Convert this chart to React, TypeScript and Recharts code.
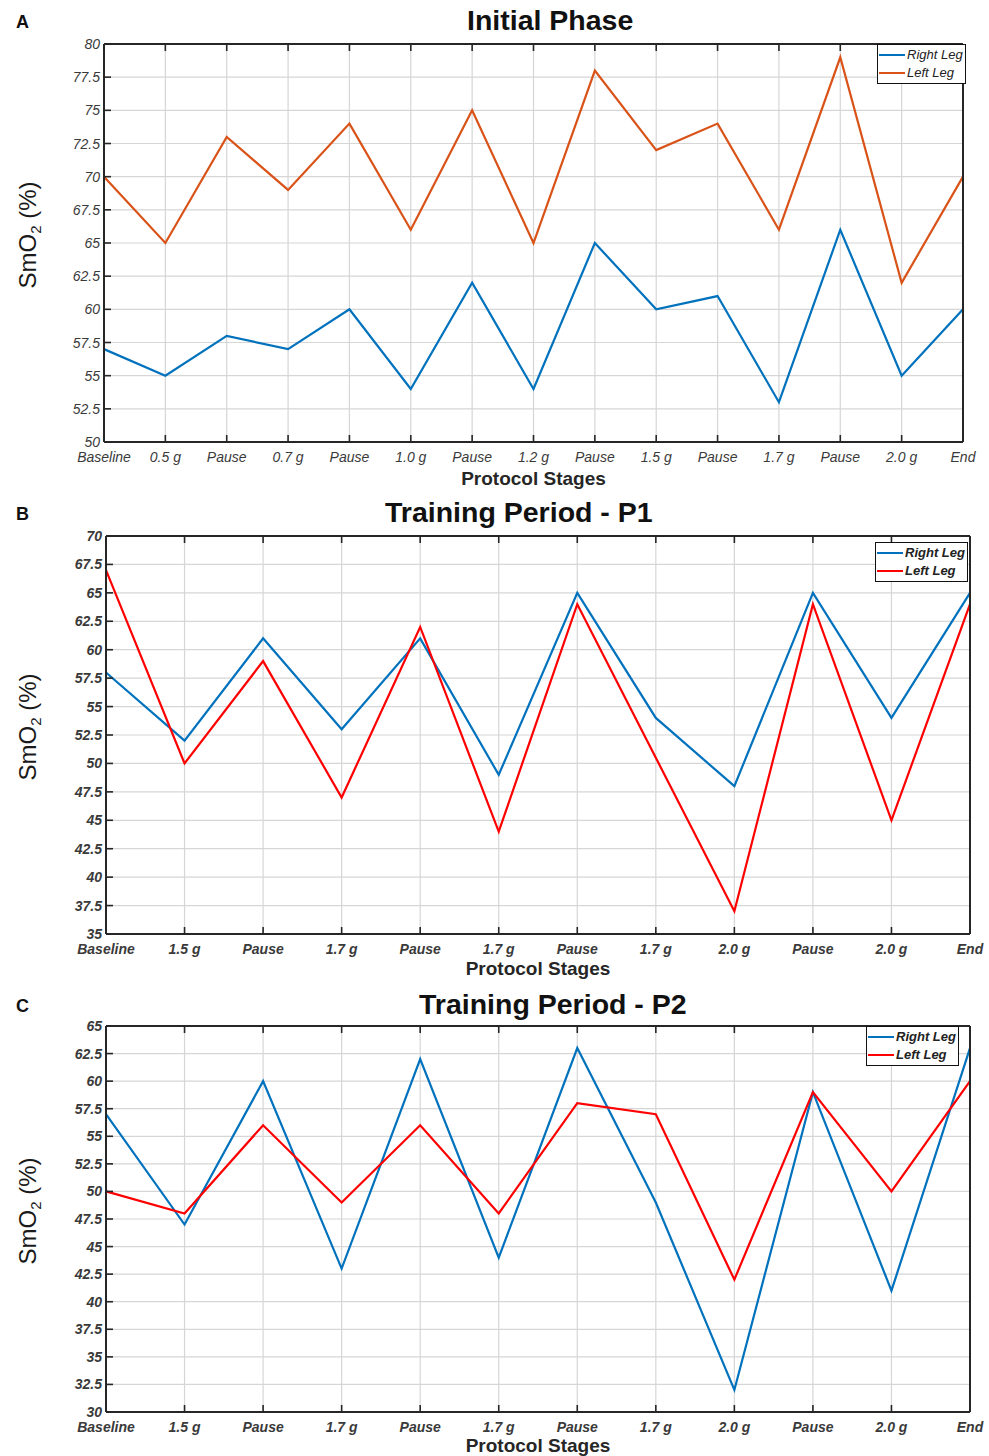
import React from 'react';
import { LineChart, Line, XAxis, YAxis, CartesianGrid, Legend } from 'recharts';

// Panel A - Initial Phase
const initialStages = ['Baseline', '0.5 g', 'Pause', '0.7 g', 'Pause', '1.0 g', 'Pause', '1.2 g', 'Pause', '1.5 g', 'Pause', '1.7 g', 'Pause', '2.0 g', 'End'];
const initialRight = [57, 55, 58, 57, 60, 54, 62, 54, 65, 60, 61, 53, 66, 55, 60];
const initialLeft = [70, 65, 73, 69, 74, 66, 75, 65, 78, 72, 74, 66, 79, 62, 70];
const initialTicks = [50, 52.5, 55, 57.5, 60, 62.5, 65, 67.5, 70, 72.5, 75, 77.5, 80];

// Panels B and C - Training periods
const trainingStages = ['Baseline', '1.5 g', 'Pause', '1.7 g', 'Pause', '1.7 g', 'Pause', '1.7 g', '2.0 g', 'Pause', '2.0 g', 'End'];
const p1Right = [58, 52, 61, 53, 61, 49, 65, 54, 48, 65, 54, 65];
const p1Left = [67, 50, 59, 47, 62, 44, 64, 50.5, 37, 64, 45, 64];
const p1Ticks = [35, 37.5, 40, 42.5, 45, 47.5, 50, 52.5, 55, 57.5, 60, 62.5, 65, 67.5, 70];
const p2Right = [57, 47, 60, 43, 62, 44, 63, 49, 32, 59, 41, 63];
const p2Left = [50, 48, 56, 49, 56, 48, 58, 57, 42, 59, 50, 60];
const p2Ticks = [30, 32.5, 35, 37.5, 40, 42.5, 45, 47.5, 50, 52.5, 55, 57.5, 60, 62.5, 65];

const FONT = '"Liberation Sans", Arial, sans-serif';
const AXIS = '#262626';
const GRID = '#d6d6d6';

const buildRows = (stages, right, left) =>
    stages.map((stage, i) => ({ stage, right: right[i], left: left[i] }));

const tickIndex = (p) => (p.index !== undefined ? p.index : p.payload && p.payload.index);

function Panel({ letter, title, titleLeft, top, height, marginTop, plotLeft, plotRightGap, xAxisH,
    rows, ticks, rightColor, leftColor, bold, legendPos, labelY }) {
    const tickFont = { fontFamily: FONT, fontStyle: 'italic', fontWeight: bold ? 'bold' : 'normal', fill: '#3a3a3a' };
    const last = rows.length - 1;
    const lo = ticks[0];
    const hi = ticks[ticks.length - 1];
    const inner = (i) => i > 0 && i < last;

    const bottomTick = (p) => (
        <g>
            {inner(tickIndex(p)) && <line x1={p.x} y1={p.y} x2={p.x} y2={p.y - 7} stroke={AXIS} strokeWidth={1.6} />}
            <text x={p.x} y={p.y + 20} textAnchor="middle" fontSize={14} {...tickFont}>{p.payload.value}</text>
        </g>
    );
    const topTick = (p) =>
        inner(tickIndex(p)) ? <line x1={p.x} y1={p.y} x2={p.x} y2={p.y + 7} stroke={AXIS} strokeWidth={1.6} /> : <g />;
    const leftTick = (p) => (
        <g>
            {p.payload.value !== lo && p.payload.value !== hi && <line x1={p.x} y1={p.y} x2={p.x + 7} y2={p.y} stroke={AXIS} strokeWidth={1.6} />}
            <text x={p.x - 4} y={p.y + 5} textAnchor="end" fontSize={14} {...tickFont}>{p.payload.value}</text>
        </g>
    );
    const rightTick = (p) =>
        p.payload.value !== lo && p.payload.value !== hi ? <line x1={p.x} y1={p.y} x2={p.x - 7} y2={p.y} stroke={AXIS} strokeWidth={1.6} /> : <g />;

    const legendContent = () => (
        <div style={{ border: '1.5px solid #111', background: '#fff', padding: '1px 2px 1px 1px', fontFamily: FONT, fontStyle: 'italic', fontWeight: bold ? 'bold' : 'normal', fontSize: 13, color: '#222', lineHeight: '18px' }}>
            {[['Right Leg', rightColor], ['Left Leg', leftColor]].map(([name, color]) => (
                <div key={name} style={{ display: 'flex', alignItems: 'center' }}>
                    <span style={{ display: 'inline-block', width: 26, height: 2.5, background: color, marginRight: 2 }} />
                    <span>{name}</span>
                </div>
            ))}
        </div>
    );

    return (
        <div style={{ position: 'absolute', left: 0, top, width: 989, height }}>
            <div style={{ position: 'absolute', left: 16, top: 12, fontFamily: FONT, fontWeight: 'bold', fontSize: 18, color: '#111' }}>{letter}</div>
            <div style={{ position: 'absolute', left: titleLeft, top: 4, fontFamily: FONT, fontWeight: 'bold', fontSize: 28.5, color: '#111', whiteSpace: 'nowrap' }}>{title}</div>
            <LineChart width={989} height={height} data={rows} margin={{ top: marginTop - 1, right: 0, bottom: 0, left: 0 }}>
                <CartesianGrid xAxisId="b" yAxisId="l" stroke={GRID} strokeWidth={1.2} />
                <XAxis xAxisId="b" dataKey="stage" height={xAxisH} stroke={AXIS} strokeWidth={2} tickLine={false}
                    tickSize={0} tickMargin={0} interval={0} tick={bottomTick}
                    label={{
                        content: ({ viewBox }) => (
                            <text x={viewBox.x + viewBox.width / 2} y={viewBox.y + labelY} textAnchor="middle"
                                fontFamily={FONT} fontWeight="bold" fontSize={19} fill="#262626">Protocol Stages</text>
                        ),
                    }} />
                <XAxis xAxisId="t" dataKey="stage" orientation="top" height={1} stroke={AXIS} strokeWidth={2} tickLine={false}
                    tickSize={0} tickMargin={0} interval={0} tick={topTick} />
                <YAxis yAxisId="l" type="number" domain={[lo, hi]} ticks={ticks} interval={0} width={plotLeft}
                    stroke={AXIS} strokeWidth={2} tickLine={false} tickSize={0} tickMargin={0} tick={leftTick}
                    label={{
                        content: ({ viewBox }) => {
                            const cy = viewBox.y + viewBox.height / 2 - 8;
                            return (
                                <text transform={`translate(36, ${cy}) rotate(-90)`} textAnchor="middle"
                                    fontFamily={FONT} fontSize={24} fill="#1a1a1a">
                                    <tspan>SmO</tspan>
                                    <tspan fontSize={15} dy={5}>2</tspan>
                                    <tspan dy={-5}> (%)</tspan>
                                </text>
                            );
                        },
                    }} />
                <YAxis yAxisId="r" orientation="right" type="number" domain={[lo, hi]} ticks={ticks} interval={0}
                    width={plotRightGap} stroke={AXIS} strokeWidth={2} tickLine={false} tickSize={0} tickMargin={0} tick={rightTick} />
                <Legend layout="vertical" align="center" verticalAlign="middle" content={legendContent}
                    wrapperStyle={{ top: legendPos.top, left: legendPos.left, width: 'auto', height: 'auto' }} />
                <Line xAxisId="b" yAxisId="l" type="linear" dataKey="right" name="Right Leg" stroke={rightColor}
                    strokeWidth={2.2} dot={false} isAnimationActive={false} />
                <Line xAxisId="b" yAxisId="l" type="linear" dataKey="left" name="Left Leg" stroke={leftColor}
                    strokeWidth={2.2} dot={false} isAnimationActive={false} />
            </LineChart>
        </div>
    );
}

export default function App() {
    return (
        <div style={{ position: 'absolute', left: 0, top: 0, width: 989, height: 1456, background: '#fff' }}>
            <Panel letter="A" title="Initial Phase" titleLeft={467} top={0} height={492} marginTop={44}
                plotLeft={104} plotRightGap={26} xAxisH={50} labelY={43}
                rows={buildRows(initialStages, initialRight, initialLeft)} ticks={initialTicks}
                rightColor="#0072BD" leftColor="#D95319" bold={false} legendPos={{ top: 44, left: 877 }} />
            <Panel letter="B" title="Training Period - P1" titleLeft={385} top={492} height={492} marginTop={44}
                plotLeft={106} plotRightGap={19} xAxisH={50} labelY={41}
                rows={buildRows(trainingStages, p1Right, p1Left)} ticks={p1Ticks}
                rightColor="#0072BD" leftColor="#FF0000" bold={true} legendPos={{ top: 50, left: 875 }} />
            <Panel letter="C" title="Training Period - P2" titleLeft={419} top={984} height={472} marginTop={42}
                plotLeft={106} plotRightGap={19} xAxisH={44} labelY={40}
                rows={buildRows(trainingStages, p2Right, p2Left)} ticks={p2Ticks}
                rightColor="#0072BD" leftColor="#FF0000" bold={true} legendPos={{ top: 42, left: 866 }} />
        </div>
    );
}
